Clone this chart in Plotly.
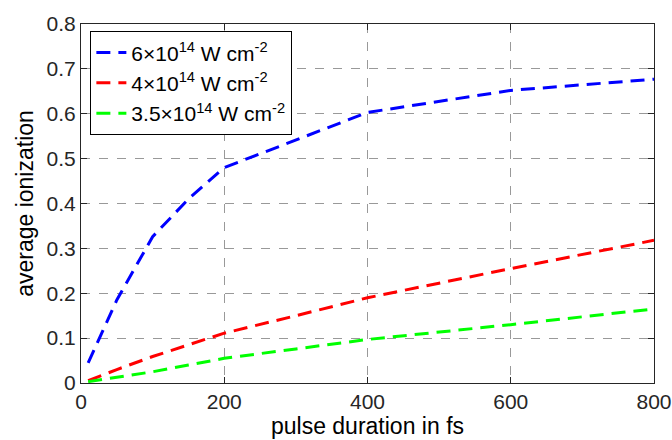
import plotly.graph_objects as go

pulse_fs = [10, 50, 100, 150, 200, 300, 400, 600, 800]
ion_6e14 = [0.045, 0.185, 0.326, 0.410, 0.480, 0.542, 0.603, 0.652, 0.677]
ion_4e14 = [0.005, 0.030, 0.059, 0.085, 0.111, 0.150, 0.190, 0.255, 0.318]
ion_35e14 = [0.003, 0.013, 0.025, 0.040, 0.055, 0.076, 0.097, 0.130, 0.165]

x_ticks = [0, 200, 400, 600, 800]
x_ticktext = ["0", "200", "400", "600", "800"]
y_ticks = [0, 0.1, 0.2, 0.3, 0.4, 0.5, 0.6, 0.7, 0.8]
y_ticktext = ["0", "0.1", "0.2", "0.3", "0.4", "0.5", "0.6", "0.7", "0.8"]

names = ["6×10<sup>14</sup> W cm<sup>-2</sup>",
         "4×10<sup>14</sup> W cm<sup>-2</sup>",
         "3.5×10<sup>14</sup> W cm<sup>-2</sup>"]
colors = ["#0000ff", "#ff0000", "#00ff00"]

fig = go.Figure()
for y, n, c in zip([ion_6e14, ion_4e14, ion_35e14], names, colors):
    fig.add_trace(go.Scatter(x=pulse_fs, y=y, mode="lines", name=n,
                             line=dict(color=c, width=3, dash="14px,8px")))

axcommon = dict(showline=True, linecolor="#262626", linewidth=1.2, mirror="ticks",
                ticks="inside", ticklen=6, tickcolor="#262626",
                showgrid=True, gridcolor="#999999", griddash="dash", gridwidth=1,
                zeroline=False, automargin=False,
                tickfont=dict(size=21, color="#262626"),
                title_font=dict(size=23, color="#000000"))

fig.update_xaxes(range=[0, 800], tickvals=x_ticks, ticktext=x_ticktext,
                 title_text="pulse duration in fs", title_standoff=2, **axcommon)
fig.update_yaxes(range=[0, 0.8], tickvals=y_ticks, ticktext=y_ticktext,
                 title_text="average ionization", title_standoff=6, **axcommon)

fig.update_layout(
    width=672, height=440,
    margin=dict(l=81, r=18, t=24, b=57),
    paper_bgcolor="white", plot_bgcolor="white",
    font=dict(family="Liberation Sans, Arial, sans-serif", color="#000000"),
    showlegend=True,
    legend=dict(x=0.016, y=0.98, xanchor="left", yanchor="top",
                bgcolor="white", bordercolor="#000000", borderwidth=1.2,
                font=dict(size=21, color="#000000"), tracegroupgap=0,
                itemwidth=30),
)

fig.write_html("out.html",
               config={"displayModeBar": False},
               post_script="document.body.style.margin='0';"
                           "document.body.style.overflow='hidden';")
